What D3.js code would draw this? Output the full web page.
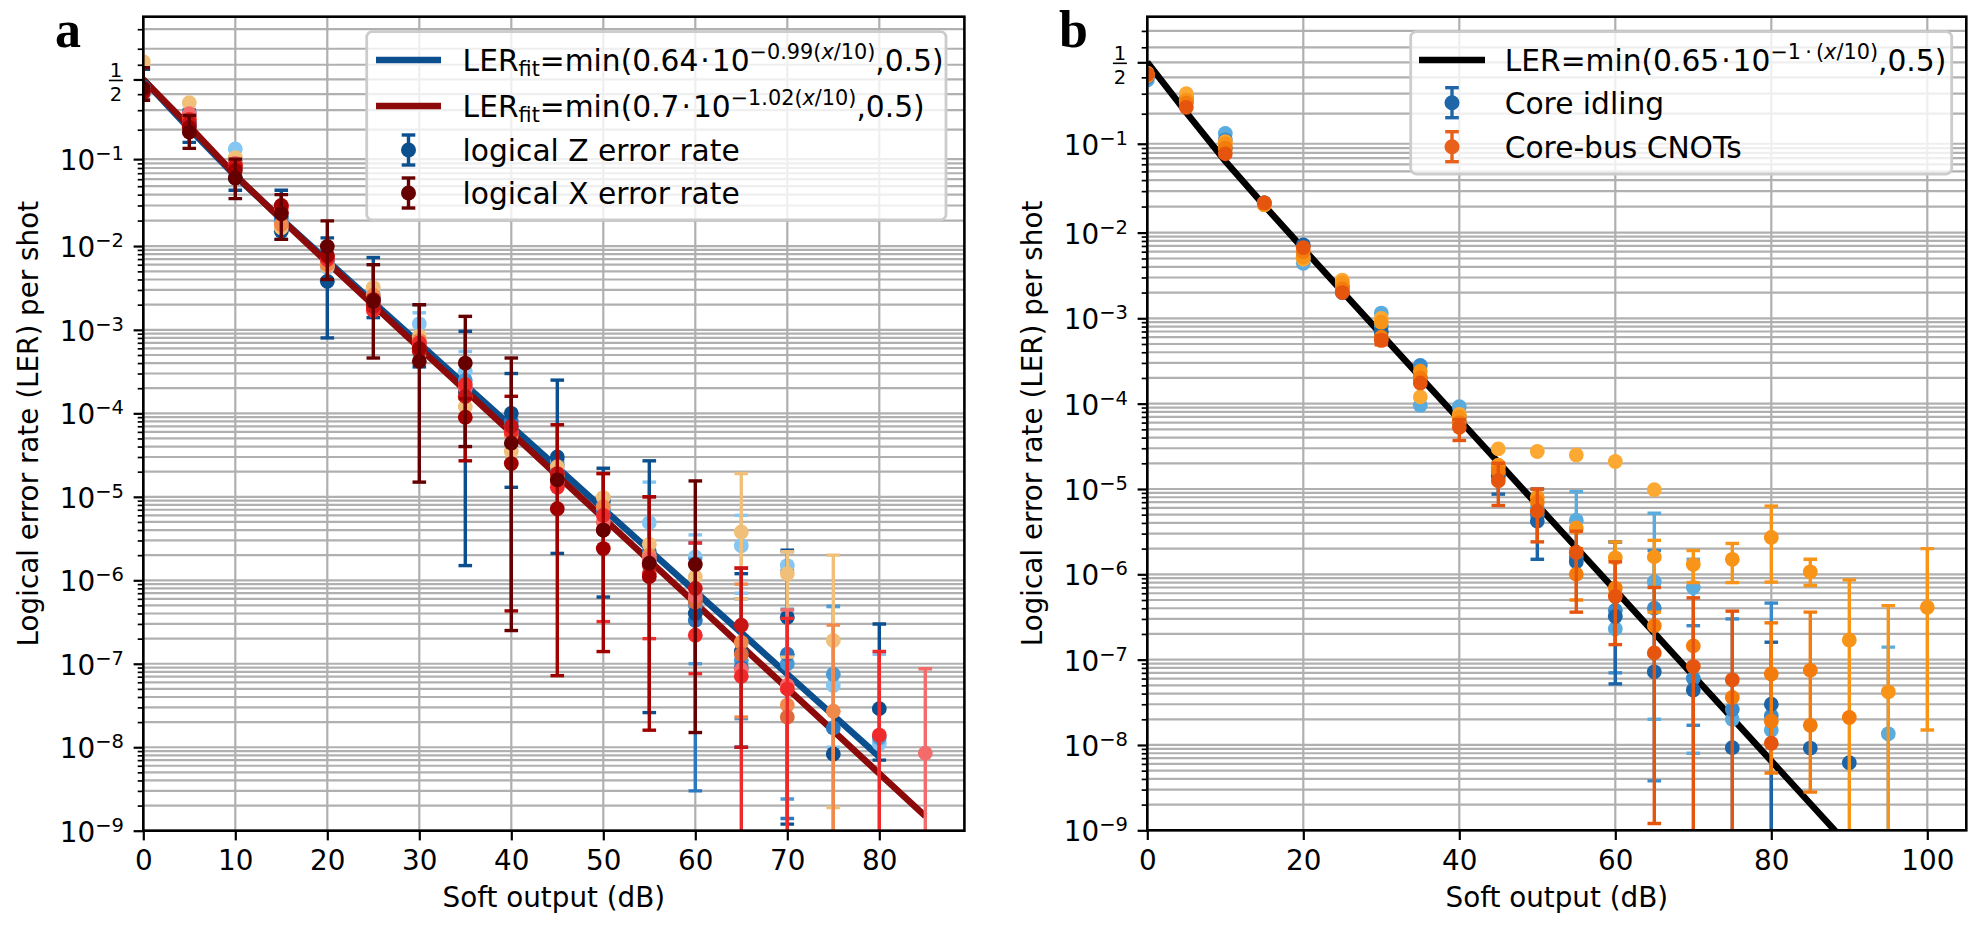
<!doctype html>
<html lang="en">
<head>
	<meta charset="UTF-8">
	<title>logical error rate vs soft output | d3</title>
	<style>
		body { margin: 0; background: #fff; }
		svg { display: block; font-family: 'DejaVu Sans', sans-serif; }
		.panel-label { font-family: 'Liberation Serif', serif; font-weight: bold; font-size: 52px; }
	</style>
</head>
<body>
	<script src="https://cdn.jsdelivr.net/npm/d3@7/dist/d3.min.js"></script>
	<script>
		var w = 1983,
			h = 932,
			FS = 27.8,
			FS_SUB = 19.5,
			FS_LEG = 29.7,
			FS_LEG_SUB = 20.8;

		// ---- panel a : [dB, LER, errLow, errHigh] (error bounds only where a bar is visible)
		var zLight = [[0,0.40],[5,0.29],[10,0.128],[15,0.021],[20,0.0056],[25,0.0027],[30,0.00118,0.0005,0.0016],[35,3.2e-4,1.2e-4,5.5e-4],[40,7.2e-5],[45,2.7e-5],[50,8.5e-6],[55,4.9e-6,1.8e-6,1.5e-5],[60,1.9e-6,5e-7,3.5e-6],[65,2.6e-6,7e-7,6e-6],[70,1.5e-6,4e-7,2.2e-6],[75,5.5e-8,1e-8,4.8e-7],[80,1.1e-8,1e-12,1.3e-7]];
		var zMid = [[0,0.42],[5,0.27],[10,0.10],[15,0.019],[20,0.0065],[25,0.0022],[30,6.5e-4],[35,2.5e-4],[40,7e-5],[45,2e-5],[50,7e-6],[55,1.8e-6],[60,5e-7,1e-7,1.8e-6],[65,1.1e-7,2.2e-8,6e-7],[70,1e-7,2.4e-9,4.5e-7],[75,7.5e-8,1e-12,4.9e-7],[80,1.3e-8]];
		var zBlue = [[0,0.44],[5,0.24],[10,0.08],[15,0.022],[20,0.007],[25,0.0023],[30,7e-4],[35,2e-4],[40,8e-5],[45,2.4e-5],[50,6.5e-6],[55,2.2e-6],[60,3.3e-7,3e-9,2.8e-6],[65,9e-8],[70,1.3e-7,1.4e-9,1.3e-6],[75,1.7e-8]];
		var zDark = [[0,0.45,0.36,0.57],[5,0.22,0.15,0.3],[10,0.062,0.045,0.09],[15,0.015,0.012,0.045],[20,0.0038,8e-4,0.0125],[25,0.0024,0.0014,0.0073],[30,6e-4,3.6e-4,0.002],[35,1.8e-4,1.5e-6,9.6e-4],[40,1.0e-4,1.3e-5,3e-4],[45,3e-5,2.1e-6,2.5e-4],[50,9e-6,6.3e-7,2.2e-5],[55,1.6e-6,2.6e-8,2.7e-5],[60,4e-7],[65,1.4e-7,1e-8,1.2e-6],[70,3.6e-7,1.2e-9,2.3e-6],[75,8.3e-9],[80,2.9e-8,7e-9,3e-7]];
		var xTan = [[0,0.62],[5,0.345],[10,0.104],[15,0.0165],[20,0.0058],[25,0.0032],[30,8.4e-4],[35,1.2e-4],[40,3.5e-5],[45,2.3e-5],[50,9.8e-6],[55,2.7e-6],[60,1.1e-6],[65,3.8e-6,6e-7,1.9e-5],[70,1.2e-6,1.2e-7,2.2e-6],[75,1.9e-7,1.9e-9,2e-6]];
		var xOrange = [[0,0.44],[5,0.26],[10,0.09],[15,0.018],[20,0.006],[25,0.0026],[30,7.5e-4],[35,1.6e-4],[40,5.5e-5],[45,1.8e-5],[50,7.6e-6],[55,2e-6],[60,6e-7],[65,1.8e-7,2.3e-8,9e-7],[70,3.2e-8],[75,2.7e-8,1e-12,2.9e-7]];
		var xRust = [[60,5.5e-7],[65,1.3e-7],[70,2.3e-8]];
		var xSalmon = [[0,0.43],[5,0.28],[10,0.09],[15,0.028],[20,0.0072],[25,0.0021],[30,6.5e-4],[35,2e-4],[40,6e-5],[45,1.5e-5],[50,5e-6],[55,1.8e-6],[60,6.5e-7],[65,8.5e-8],[70,5.5e-8,1e-12,4.4e-7],[85,8.5e-9,1e-12,8.7e-8]];
		var xRed = [[0,0.43],[5,0.25],[10,0.083],[15,0.029],[20,0.0069],[25,0.0017],[30,7e-4],[35,2.2e-4],[40,6e-5],[45,1.3e-5],[50,6e-6,3.2e-7,1.9e-5],[55,1.2e-6,2e-7,1e-5],[60,2.2e-7,7.6e-8,2.8e-6],[65,7.1e-8,1e-12,1.4e-6],[70,5e-8,1e-12,3.5e-7],[80,1.4e-8,1e-12,1.4e-7]];
		var xCrimson = [[0,0.41],[5,0.23],[10,0.085],[15,0.025],[20,0.0075],[25,0.0019],[30,5.5e-4],[35,1.6e-4],[40,7e-5],[45,1.9e-5],[50,4e-6],[55,1.5e-6],[60,8e-7],[65,2.9e-7,1e-8,1.4e-6]];
		var xDark = [[0,0.42],[5,0.21],[10,0.075],[15,0.03],[20,0.0078],[25,0.0023],[30,6e-4],[35,9e-5,2.7e-5,1.5e-4],[40,2.5e-5,4.3e-7,1.6e-4],[45,7.2e-6,7.2e-8,7.3e-5],[50,2.4e-6,1.4e-7,1.9e-5],[55,1.1e-6,1.6e-8,1e-5]];
		var xMaroon = [[0,0.44,0.36,0.58],[5,0.19,0.13,0.27],[10,0.062,0.036,0.1],[15,0.024,0.012,0.04],[20,0.0099,0.004,0.0198],[25,0.0022,4.6e-4,0.006],[30,4.2e-4,1.5e-5,0.002],[35,4e-4,4e-5,1.45e-3],[40,4.4e-5,2.5e-7,4.6e-4],[45,1.6e-5],[50,4e-6],[55,1.6e-6],[60,1.55e-6,1.5e-8,1.55e-5]];

		// ---- panel b
		var bLight = [[0,0.383],[5,0.29],[10,0.128],[15,0.022],[20,0.0044],[25,0.0024],[30,0.00115],[35,9.6e-5],[40,9.2e-5],[45,1.5e-5],[50,6e-6],[55,4.3e-6,1.5e-6,9.3e-6],[60,2.3e-7],[65,8.2e-7,2e-8,5.2e-6],[70,7e-7,8e-9,1.5e-6],[75,2e-8],[80,1.5e-8],[95,1.35e-8,1e-12,1.4e-7]];
		var bMid = [[0,0.40],[5,0.28],[10,0.11],[15,0.022],[20,0.0052],[25,0.0023],[30,8e-4],[35,2.8e-4],[40,7e-5],[45,1.8e-5],[50,5e-6],[55,1.6e-6],[60,3.8e-7,7e-8,2.4e-6],[65,4e-7,3.8e-9,1.9e-6],[70,6e-8,1.7e-8,2.5e-7],[75,2.6e-8,1e-12,3e-7],[80,2.2e-8,1e-12,4.6e-7]];
		var bDark = [[0,0.42],[5,0.26],[10,0.09],[15,0.022],[20,0.0072],[25,0.002],[30,6.9e-4],[35,2e-4],[40,6e-5],[45,1.4e-5,8.7e-6,2e-5],[50,4.2e-6,1.5e-6,1e-5],[55,1.4e-6],[60,3.2e-7,5.2e-8,2.4e-6],[65,7.2e-8],[70,4.4e-8],[75,9.3e-9],[80,3e-8,1e-12,1.6e-7],[85,9.2e-9],[90,6.2e-9]];
		var oLight = [[0,0.427],[5,0.30],[10,0.105],[15,0.021],[20,0.0049],[25,0.0028],[30,0.001],[35,1.2e-4],[40,7.5e-5],[45,2.95e-5],[50,2.75e-5],[55,2.5e-5],[60,2.1e-5],[65,9.8e-6]];
		var oMid = [[0,0.41],[5,0.265],[10,0.1],[15,0.021],[20,0.0052],[25,0.0026],[30,9e-4],[35,2.4e-4],[40,7e-5],[45,1.9e-5],[50,8e-6],[55,3.5e-6],[60,1.56e-6,6e-7,2.4e-6],[65,1.6e-6,3.6e-7,2.5e-6],[70,1.3e-6,8e-7,1.9e-6],[75,1.5e-6,8e-7,2.3e-6],[80,2.7e-6,8.1e-7,6.3e-6],[85,1.07e-6,7.4e-7,1.5e-6],[90,1.7e-7,1e-12,8.6e-7],[95,4.2e-8,1e-12,4.3e-7],[100,4.1e-7,1.5e-8,2e-6]];
		var oOrange = [[0,0.42],[5,0.25],[10,0.09],[15,0.022],[20,0.006],[25,0.0022],[30,6e-4],[35,2e-4],[40,6e-5],[45,1.6e-5],[50,7e-6],[55,1e-6,5e-7,2e-6],[60,6.9e-7],[65,2.5e-7],[70,1.45e-7],[75,3.6e-8],[80,6.8e-8,4.7e-9,2.7e-7],[80,1.9e-8],[85,7.5e-8,2.8e-9,3.6e-7],[85,1.7e-8],[90,2.1e-8]];
		var oDark = [[0,0.42],[5,0.229],[10,0.078],[15,0.022],[20,0.0067],[25,0.002],[30,5.5e-4,4.9e-4,6.2e-4],[35,1.75e-4],[40,5.3e-5,3.7e-5,6.5e-5],[45,1.25e-5,6.4e-6,2e-5],[50,5.5e-6,2.4e-6,1e-5],[55,1.8e-6,3.6e-7,3.2e-6],[60,5.5e-7,1.5e-7,1.4e-6],[65,1.2e-7,1.2e-9,7e-7],[70,8.3e-8,1e-12,5.3e-7],[75,5.8e-8,1e-12,3.7e-7],[80,1.05e-8]];

		// fit lines: [coefficient, slope, last dB], evaluated at the measured dB steps
		var fitZ = [0.64, 0.99, 80],
			fitX = [0.7, 1.02, 85],
			fitB = [0.65, 1.0, 100];

		var xTicksA = [0, 10, 20, 30, 40, 50, 60, 70, 80],
			xTicksB = [0, 20, 40, 60, 80, 100],
			yMajor = [0.5, 1e-1, 1e-2, 1e-3, 1e-4, 1e-5, 1e-6, 1e-7, 1e-8, 1e-9];

		var svg = d3.select('body')
			.append('svg')
			.attr('width', w)
			.attr('height', h);

		var logit = function(p) {
			return Math.log10(p / (1 - p));
		};

		/**
		* minor tick positions of a logit axis below the top limit
		*/
		var minorTicks = function(top) {
			var out = [];
			for (var e = -9; e <= -2; e++) {
				for (var m = 2; m <= 9; m++) {
					out.push(m * Math.pow(10, e));
				}
			}
			[0.2, 0.3, 0.4, 0.6, 0.7, 0.8, 0.9].forEach(function(v) {
				if (v < top) { out.push(v); }
			});
			return out;
		};

		var fitPoints = function(fit) {
			return d3.range(0, fit[2] + 0.001, 5).map(function(v) {
				return [v, Math.min(fit[0] * Math.pow(10, -fit[1] * v / 10), 0.5)];
			});
		};

		/**
		* y tick label: 10^-k or the 1/2 fraction
		*/
		var yTickLabel = function(g, px, py, v) {
			if (v === 0.5) {
				var cx = px - 8;
				g.append('text').attr('x', cx).attr('y', py - 2).attr('text-anchor', 'middle')
					.attr('font-size', FS_SUB).text('1');
				g.append('line').attr('x1', cx - 7).attr('x2', cx + 7).attr('y1', py + 1).attr('y2', py + 1)
					.attr('stroke', '#000').attr('stroke-width', 1.6);
				g.append('text').attr('x', cx).attr('y', py + 22).attr('text-anchor', 'middle')
					.attr('font-size', FS_SUB).text('2');
				return;
			}
			var k = Math.round(-Math.log10(v));
			var t = g.append('text').attr('x', px).attr('y', py + 11)
				.attr('text-anchor', 'end').attr('font-size', FS);
			t.append('tspan').text('10');
			t.append('tspan').attr('font-size', FS_SUB).attr('dy', -10).text('\u2212' + k);
		};

		var errorMarker = function(g, cx, cy, color) {
			g.append('line').attr('x1', cx).attr('x2', cx).attr('y1', cy - 15).attr('y2', cy + 15)
				.attr('stroke', color).attr('stroke-width', 3.4);
			[cy - 15, cy + 15].forEach(function(yy) {
				g.append('line').attr('x1', cx - 6.8).attr('x2', cx + 6.8).attr('y1', yy).attr('y2', yy)
					.attr('stroke', color).attr('stroke-width', 3.4);
			});
			g.append('circle').attr('cx', cx).attr('cy', cy).attr('r', 7.5).attr('fill', color);
		};

		/**
		* draw one panel
		*/
		var drawPanel = function(cfg) {
			var g = svg.append('g');
			var x = d3.scaleLinear().domain([0, cfg.xMax]).range([cfg.left, cfg.right]);
			var yLin = d3.scaleLinear().domain([logit(1e-9), logit(cfg.yTop)]).range([cfg.bottom, cfg.top]);
			var y = function(p) { return yLin(logit(p)); };
			var minor = minorTicks(cfg.yTop);

			svg.append('clipPath').attr('id', 'clip-' + cfg.id)
				.append('rect')
				.attr('x', cfg.left).attr('y', cfg.top)
				.attr('width', cfg.right - cfg.left).attr('height', cfg.bottom - cfg.top);

			// grid
			var grid = g.append('g').attr('stroke', '#b0b0b0').attr('stroke-width', 2.2);
			grid.selectAll('line.h')
				.data(yMajor.concat(minor))
				.enter()
				.append('line')
				.attr('x1', cfg.left).attr('x2', cfg.right)
				.attr('y1', function(d) { return y(d); })
				.attr('y2', function(d) { return y(d); });
			grid.selectAll('line.v')
				.data(cfg.xTicks)
				.enter()
				.append('line')
				.attr('class', 'v')
				.attr('y1', cfg.top).attr('y2', cfg.bottom)
				.attr('x1', function(d) { return x(d); })
				.attr('x2', function(d) { return x(d); });

			var plot = g.append('g').attr('clip-path', 'url(#clip-' + cfg.id + ')');

			// fit lines
			var line = d3.line()
				.x(function(d) { return x(d[0]); })
				.y(function(d) { return y(d[1]); });
			cfg.fits.forEach(function(f) {
				plot.append('path')
					.attr('d', line(fitPoints(f.fit)))
					.attr('fill', 'none')
					.attr('stroke', f.color)
					.attr('stroke-width', 6.5);
			});

			// series: bars, caps, then markers
			cfg.series.forEach(function(s) {
				var sg = plot.append('g');
				var withErr = s.data.filter(function(d) { return d.length > 2; });
				sg.selectAll('line.bar')
					.data(withErr)
					.enter()
					.append('line')
					.attr('x1', function(d) { return x(d[0]); })
					.attr('x2', function(d) { return x(d[0]); })
					.attr('y1', function(d) { return y(d[2]); })
					.attr('y2', function(d) { return y(d[3]); })
					.attr('stroke', s.color)
					.attr('stroke-width', 3.4);
				[2, 3].forEach(function(idx) {
					sg.selectAll('line.cap' + idx)
						.data(withErr)
						.enter()
						.append('line')
						.attr('x1', function(d) { return x(d[0]) - 6.8; })
						.attr('x2', function(d) { return x(d[0]) + 6.8; })
						.attr('y1', function(d) { return y(d[idx]); })
						.attr('y2', function(d) { return y(d[idx]); })
						.attr('stroke', s.color)
						.attr('stroke-width', 3.4);
				});
				sg.selectAll('circle')
					.data(s.data)
					.enter()
					.append('circle')
					.attr('cx', function(d) { return x(d[0]); })
					.attr('cy', function(d) { return y(d[1]); })
					.attr('r', 7.4)
					.attr('fill', s.color);
			});

			// axes
			var xAxis = g.append('g')
				.attr('transform', 'translate(0,' + cfg.bottom + ')')
				.call(d3.axisBottom(x).tickValues(cfg.xTicks).tickSize(9.7).tickPadding(9.9));
			xAxis.select('.domain').remove();
			xAxis.selectAll('line').attr('stroke-width', 2.2);
			xAxis.selectAll('text').attr('font-size', FS).attr('font-family', 'DejaVu Sans');

			var yAxisMajor = g.append('g')
				.attr('transform', 'translate(' + cfg.left + ',0)')
				.call(d3.axisLeft(yLin).tickValues(yMajor.map(logit)).tickSize(9.7).tickFormat(''));
			yAxisMajor.select('.domain').remove();
			yAxisMajor.selectAll('line').attr('stroke-width', 2.2);

			var yAxisMinor = g.append('g')
				.attr('transform', 'translate(' + cfg.left + ',0)')
				.call(d3.axisLeft(yLin).tickValues(minor.map(logit)).tickSize(5.6).tickFormat(''));
			yAxisMinor.select('.domain').remove();
			yAxisMinor.selectAll('line').attr('stroke-width', 1.7);

			var labels = g.append('g');
			yMajor.forEach(function(v) {
				yTickLabel(labels, cfg.left - 19.4, y(v), v);
			});

			// spines
			g.append('rect')
				.attr('x', cfg.left).attr('y', cfg.top)
				.attr('width', cfg.right - cfg.left).attr('height', cfg.bottom - cfg.top)
				.attr('fill', 'none').attr('stroke', '#000').attr('stroke-width', 2.6);

			// axis titles
			g.append('text')
				.attr('x', (cfg.left + cfg.right) / 2).attr('y', 907)
				.attr('text-anchor', 'middle').attr('font-size', FS)
				.text('Soft output (dB)');
			g.append('text')
				.attr('transform', 'translate(' + (cfg.left - 105) + ',' + ((cfg.top + cfg.bottom) / 2) + ') rotate(-90)')
				.attr('text-anchor', 'middle').attr('font-size', FS)
				.text('Logical error rate (LER) per shot');

			g.append('text')
				.attr('class', 'panel-label')
				.attr('x', cfg.labelX).attr('y', 47)
				.text(cfg.label);

			return g;
		};

		/**
		* legend box with a fit row and errorbar rows
		*/
		var drawLegend = function(g, lg) {
			g.append('rect')
				.attr('x', lg.x).attr('y', lg.y).attr('width', lg.w).attr('height', lg.h)
				.attr('rx', 5.6)
				.attr('fill', '#fff').attr('fill-opacity', 0.8)
				.attr('stroke', '#cccccc').attr('stroke-width', 2.8);
			lg.rows.forEach(function(r, i) {
				var ry = lg.rowY[i];
				if (r.type === 'line') {
					g.append('line')
						.attr('x1', lg.handle[0]).attr('x2', lg.handle[1])
						.attr('y1', ry).attr('y2', ry)
						.attr('stroke', r.color).attr('stroke-width', 6.5);
				} else {
					errorMarker(g, (lg.handle[0] + lg.handle[1]) / 2, ry, r.color);
				}
				var t = g.append('text').attr('x', lg.textX).attr('y', ry + 11).attr('font-size', FS_LEG);
				r.parts.forEach(function(p) {
					var sp = t.append('tspan').text(p.t);
					if (p.size) { sp.attr('font-size', p.size); }
					if (p.dy) { sp.attr('dy', p.dy); }
					if (p.dx) { sp.attr('dx', p.dx); }
					if (p.it) { sp.attr('font-style', 'italic'); }
				});
			});
		};

		var fitParts = function(name, coef, expo) {
			var parts = [{t: 'LER'}];
			if (name) {
				parts.push({t: name, size: FS_LEG_SUB, dy: 5});
				parts.push({t: '=min(' + coef, size: FS_LEG, dy: -5});
			} else {
				parts.push({t: '=min(' + coef});
			}
			parts.push({t: '\u00b7', dx: 2});
			parts.push({t: '10', dx: 2});
			parts.push({t: expo + '(', size: FS_LEG_SUB, dy: -12});
			parts.push({t: 'x', size: FS_LEG_SUB, it: true});
			parts.push({t: '/10)', size: FS_LEG_SUB});
			parts.push({t: ',0.5)', size: FS_LEG, dy: 12});
			return parts;
		};

		var gA = drawPanel({
			id: 'a', label: 'a', labelX: 55,
			left: 143.3, right: 964.4, top: 16.7, bottom: 830.7,
			xMax: 89.25, yTop: 0.8496, xTicks: xTicksA,
			fits: [{fit: fitZ, color: '#0c4f8e'}, {fit: fitX, color: '#8c0a0a'}],
			series: [
				{data: zLight, color: '#85c6f2'},
				{data: zMid, color: '#4a9ad6'},
				{data: zBlue, color: '#2a78c0'},
				{data: zDark, color: '#0b4f8e'},
				{data: xTan, color: '#f0c07a'},
				{data: xOrange, color: '#f08a4c'},
				{data: xRust, color: '#dc6a3a'},
				{data: xSalmon, color: '#f36b6b'},
				{data: xRed, color: '#f02a2a'},
				{data: xCrimson, color: '#c81414'},
				{data: xDark, color: '#a00000'},
				{data: xMaroon, color: '#660000'}
			]
		});

		drawLegend(gA, {
			x: 366.7, y: 31.7, w: 579.3, h: 188.3,
			handle: [376, 441], textX: 462.6,
			rowY: [60, 106, 150, 193],
			rows: [
				{type: 'line', color: '#0c4f8e', parts: fitParts('fit', '0.64', '\u22120.99')},
				{type: 'line', color: '#8c0a0a', parts: fitParts('fit', '0.7', '\u22121.02')},
				{type: 'err', color: '#0b4f8e', parts: [{t: 'logical Z error rate'}]},
				{type: 'err', color: '#660000', parts: [{t: 'logical X error rate'}]}
			]
		});

		var gB = drawPanel({
			id: 'b', label: 'b', labelX: 1059,
			left: 1147.3, right: 1966.3, top: 16.7, bottom: 830.3,
			xMax: 105, yTop: 0.774, xTicks: xTicksB,
			fits: [{fit: fitB, color: '#000000'}],
			series: [
				{data: bLight, color: '#5aabde'},
				{data: bMid, color: '#3a8bcb'},
				{data: bDark, color: '#1c64a8'},
				{data: oLight, color: '#fca934'},
				{data: oMid, color: '#f89418'},
				{data: oOrange, color: '#f47c0c'},
				{data: oDark, color: '#e6550d'}
			]
		});

		drawLegend(gB, {
			x: 1410.7, y: 31.7, w: 541, h: 142.3,
			handle: [1419, 1485], textX: 1504.7,
			rowY: [60, 102.7, 146.7],
			rows: [
				{type: 'line', color: '#000000', parts: fitParts(null, '0.65', '\u22121\u2009\u00b7\u2009')},
				{type: 'err', color: '#1f66a8', parts: [{t: 'Core idling'}]},
				{type: 'err', color: '#e8601a', parts: [{t: 'Core-bus CNOTs'}]}
			]
		});
	</script>
</body>
</html>
